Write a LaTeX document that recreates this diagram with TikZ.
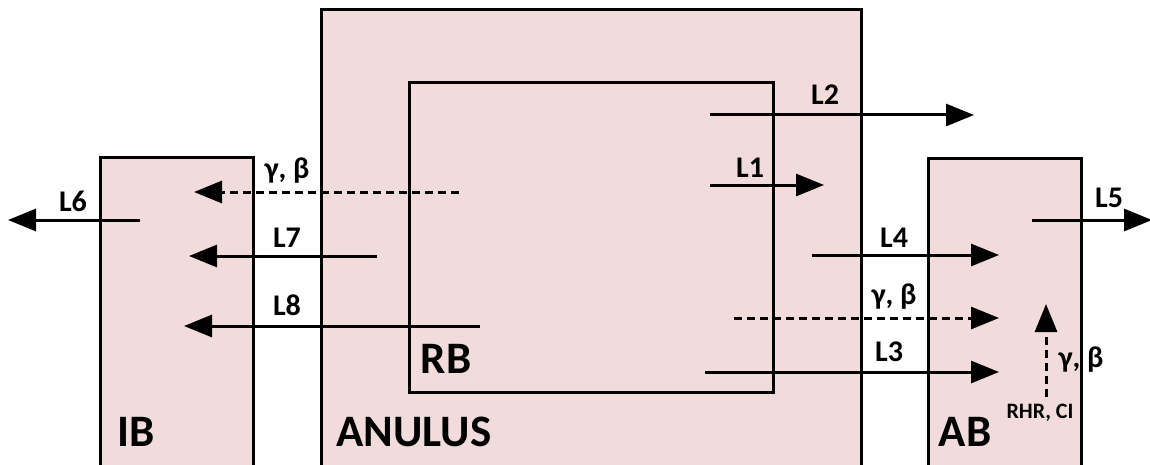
\documentclass[tikz,border=0pt]{standalone}
\usepackage{fontspec}
\setmainfont{Carlito}
\usetikzlibrary{arrows.meta,shadows}
\definecolor{boxfill}{HTML}{F2DCDB}
\tikzset{
  box/.style={draw=black, fill=boxfill, line width=1.5pt, inner sep=0pt, outer sep=0pt, anchor=north west,
    drop shadow={opacity=0.12, shadow xshift=1.2pt, shadow yshift=-1.2pt}},
  arr/.style={line width=1.5pt, -{Triangle[length=14pt,width=11pt]}},
  darr/.style={arr, dash pattern=on 4pt off 2.5pt},
  lbl/.style={font=\fontsize{15}{17}\selectfont\bfseries, inner sep=0pt},
  big/.style={font=\fontsize{22.5}{24}\selectfont\bfseries, inner sep=0pt},
  tiny/.style={font=\fontsize{11}{12}\selectfont\bfseries, inner sep=0pt}
}
\begin{document}
\begin{tikzpicture}[x=0.5pt,y=-0.5pt]
\useasboundingbox (0,0) rectangle (1150,465);
\clip (0,0) rectangle (1150,465);
% boxes
\node[box, minimum width=270pt, minimum height=230pt] (anulus) at (321,10) {};
\node[box, minimum width=182pt, minimum height=154.5pt] (rb) at (409,83) {};
\node[box, minimum width=76.5pt, minimum height=156.5pt] (ib) at (100,157) {};
\node[box, minimum width=76.5pt, minimum height=156pt] (ab) at (928,158) {};
% box labels
\node[big] (tib) at (136,432) {IB};
\node[big] (tan) at (414,432) {ANULUS};
\node[big] (trb) at (446,359) {RB};
\node[big] (tab) at (965,432) {AB};
% right side arrows
\coordinate (l2s) at (710,115); \coordinate (l2e) at (974,115);
\coordinate (l1s) at (710,185); \coordinate (l1e) at (824,185);
\coordinate (l4s) at (812,255); \coordinate (l4e) at (999,255);
\coordinate (gbs) at (734,318); \coordinate (gbe) at (999,318);
\coordinate (l3s) at (705,372); \coordinate (l3e) at (999,372);
\coordinate (l5s) at (1032,220); \coordinate (l5e) at (1152,220);
\coordinate (vgs) at (1046,397); \coordinate (vge) at (1046,304);
\draw[arr] (l2s) -- (l2e);
\draw[arr] (l1s) -- (l1e);
\draw[arr] (l4s) -- (l4e);
\draw[darr] (gbs) -- (gbe);
\draw[arr] (l3s) -- (l3e);
\draw[arr] (l5s) -- (l5e);
\draw[darr] (vgs) -- (vge);
\node[lbl] (tl2) at (825,95) {L2};
\node[lbl] (tl1) at (750,168) {L1};
\node[lbl] (tl4) at (894,238) {L4};
\node[lbl] (tgb1) at (894,297) {γ, β};
\node[lbl] (tl3) at (889,352) {L3};
\node[lbl] (tl5) at (1109,198) {L5};
\node[lbl] (tgb2) at (1081,360) {γ, β};
\node[tiny] (trhr) at (1040,413) {RHR, CI};
% left side arrows
\coordinate (l6s) at (140,220); \coordinate (l6e) at (8,220);
\coordinate (gls) at (459,192); \coordinate (gle) at (194,192);
\coordinate (l7s) at (377,256); \coordinate (l7e) at (189,256);
\coordinate (l8s) at (480,326); \coordinate (l8e) at (184,326);
\draw[arr] (l6s) -- (l6e);
\draw[darr] (gls) -- (gle);
\draw[arr] (l7s) -- (l7e);
\draw[arr] (l8s) -- (l8e);
\node[lbl] (tl6) at (73,201) {L6};
\node[lbl] (tgb3) at (287,171) {γ, β};
\node[lbl] (tl7) at (287,238) {L7};
\node[lbl] (tl8) at (287,305) {L8};
\end{tikzpicture}
\end{document}
